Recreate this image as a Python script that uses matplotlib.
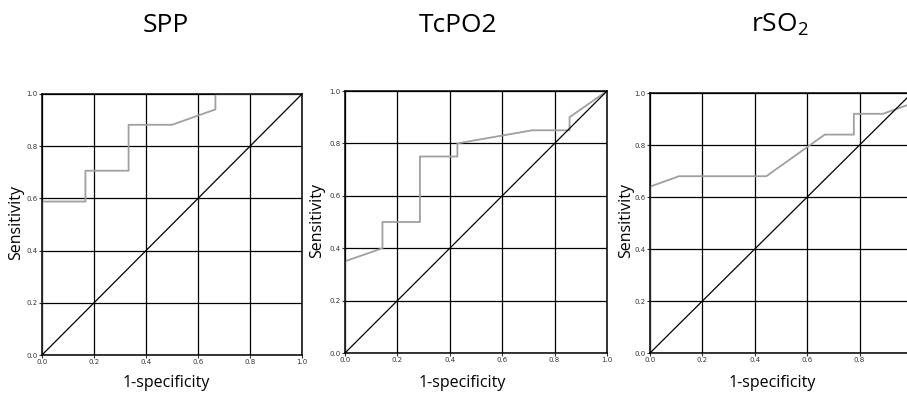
import matplotlib
matplotlib.use("Agg")
import matplotlib.pyplot as plt

plt.rcParams['mathtext.fontset'] = 'custom'
plt.rcParams['mathtext.rm'] = 'Open Sans'
plt.rcParams['mathtext.it'] = 'Open Sans:italic'

# ROC curve points (1-specificity, sensitivity)
spp_fpr = [0.0, 0.0, 0.167, 0.167, 0.333, 0.333, 0.5, 0.667, 0.667, 1.0]
spp_tpr = [0.0, 0.588, 0.588, 0.706, 0.706, 0.882, 0.882, 0.941, 1.0, 1.0]

tcpo2_fpr = [0.0, 0.0, 0.143, 0.143, 0.286, 0.286, 0.429, 0.429, 0.714, 0.857, 0.857, 1.0]
tcpo2_tpr = [0.0, 0.35, 0.40, 0.50, 0.50, 0.75, 0.75, 0.80, 0.85, 0.85, 0.90, 1.0]

rso2_fpr = [0.0, 0.0, 0.111, 0.444, 0.667, 0.778, 0.778, 0.889, 1.0, 1.0]
rso2_tpr = [0.0, 0.64, 0.68, 0.68, 0.84, 0.84, 0.92, 0.92, 0.96, 1.0]

titles = ["SPP", "TcPO2", r"rSO$_\mathregular{2}$"]
ticks = [0.0, 0.2, 0.4, 0.6, 0.8, 1.0]
tick_labels = ["0.0", "0.2", "0.4", "0.6", "0.8", "1.0"]

W, H = 907, 393
fig = plt.figure(figsize=(W / 100, H / 100), dpi=100)

# axes pixel boxes: (x0, x1, y_top, y_bottom)
boxes = [(42, 302, 94, 355), (345, 607, 91, 353), (650, 912, 93, 353)]
title_x = [166, 458, 780]
xlabel_x = [166, 462, 772]
ylabel_x = [16, 317, 626]

series = [(spp_fpr, spp_tpr), (tcpo2_fpr, tcpo2_tpr), (rso2_fpr, rso2_tpr)]

for i, (box, (fx, ty)) in enumerate(zip(boxes, series)):
    x0, x1, yt, yb = box
    ax = fig.add_axes([x0 / W, 1 - yb / H, (x1 - x0) / W, (yb - yt) / H])
    ax.set_xlim(0, 1)
    ax.set_ylim(0, 1)
    ax.set_xticks(ticks)
    ax.set_yticks(ticks)
    ax.set_xticklabels(tick_labels)
    ax.set_yticklabels(tick_labels)
    ax.tick_params(labelsize=5, length=2, width=0.8, pad=1.0,
                   colors='#333333', direction='out')
    for lab in ax.get_xticklabels() + ax.get_yticklabels():
        lab.set_fontfamily('DejaVu Sans')
    ax.grid(True, color='black', linewidth=0.9)
    ax.set_axisbelow(True)
    for s in ax.spines.values():
        s.set_color('black')
        s.set_linewidth(1.1)
        s.set_zorder(3)
    ax.plot(fx, ty, color='#a0a0a0', linewidth=1.3, zorder=2, clip_on=True)
    ax.plot([0, 1], [0, 1], color='black', linewidth=0.9, zorder=2.5)

    fig.text(title_x[i] / W, 1 - 25 / H, titles[i], fontsize=19,
             family='Open Sans', ha='center', va='center')
    fig.text(xlabel_x[i] / W, 1 - 383 / H, "1-specificity", fontsize=11.5,
             family='Open Sans', ha='center', va='center')
    fig.text(ylabel_x[i] / W, 1 - ((yt + yb) / 2 - 2) / H, "Sensitivity",
             fontsize=11.5, family='Open Sans', ha='center', va='center',
             rotation=90)

fig.savefig("out.png", dpi=100)
